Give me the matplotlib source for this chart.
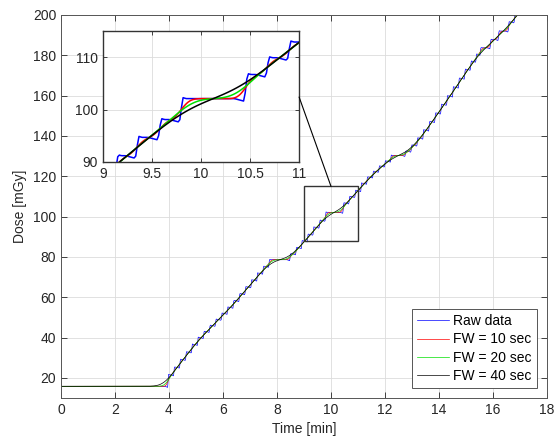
import matplotlib
matplotlib.use('Agg')
import matplotlib.pyplot as plt
from matplotlib.patches import Rectangle, ConnectionPatch
import numpy as np

plt.rcParams['font.family'] = ['Liberation Sans', 'DejaVu Sans']
plt.rcParams['font.size'] = 10

# Dose before irradiation starts
base_dose = 15.8
# Rising edge of every dose step [min] and dose level after it [mGy]
edge_t = [3.95, 4.17, 4.39, 4.61, 4.83, 5.05, 5.27, 5.49, 5.71, 5.93,
          6.15, 6.37, 6.59, 6.81, 7.03, 7.25, 7.47, 7.69,
          8.47, 8.69, 8.90, 9.12, 9.33, 9.56, 9.78,
          10.44, 10.66, 10.88, 11.10, 11.32, 11.54, 11.76, 11.98, 12.20,
          12.74, 12.96, 13.18, 13.40, 13.62, 13.84, 14.06, 14.28, 14.50,
          14.72, 14.94, 15.16, 15.36, 15.52, 15.89, 16.19, 16.56, 16.78, 17.00]
edge_dose = [21.5, 25.3, 29.1, 32.8, 36.6, 40.0, 43.0, 46.0, 49.0, 52.0,
             55.0, 58.3, 61.7, 65.1, 68.5, 71.9, 75.3, 78.6,
             81.5, 84.6, 87.9, 91.2, 94.7, 98.1, 102.1,
             106.7, 109.9, 112.9, 116.5, 119.6, 122.4, 125.0, 127.5, 130.3,
             132.4, 135.4, 138.9, 142.9, 147.1, 151.3, 155.6, 159.8, 164.2,
             168.6, 173.0, 177.0, 180.5, 183.7, 187.8, 192.0, 196.5, 200.5, 204.5]
t_end = 17.2
filter_widths = [10, 20, 40]  # sec (full width)

# raw staircase: slight sag before each rise, tiny overshoot after it
dip, over = 0.5, 0.2
pts_t = [0.0]
pts_y = [base_dose]
prev = base_dose
for t, lvl in zip(edge_t, edge_dose):
    pts_t += [t - 6 / 60, t, t + 2 / 60, t + 4 / 60]
    pts_y += [prev, prev - dip, lvl + over, lvl]
    prev = lvl
pts_t.append(t_end)
pts_y.append(prev)

t_sec = np.arange(0, t_end * 60 + 1, 1.0)
t_min = t_sec / 60
raw = np.interp(t_min, pts_t, pts_y)


def gauss_filter(y, fw):
    sig = fw / 2.355
    half = int(np.ceil(4 * sig))
    k = np.exp(-0.5 * (np.arange(-half, half + 1) / sig) ** 2)
    k /= k.sum()
    yp = np.pad(y, (half, half), mode='edge')
    return np.convolve(yp, k, mode='valid')


smoothed = [gauss_filter(raw, w) for w in filter_widths]

colors = ['#0000ff', '#ff0000', '#00e000', '#000000']
labels = ['Raw data'] + ['FW = %d sec' % w for w in filter_widths]
txt = '#262626'

fig = plt.figure(figsize=(5.57, 4.47), dpi=100)
ax = fig.add_axes([0.1095, 0.1096, 0.8725, 0.857])

series = [raw] + smoothed
for y, c, lab in zip(series, colors, labels):
    ax.plot(t_min, y, color=c, lw=0.5, label=lab)

ax.set_xlim(0, 18)
ax.set_ylim(10, 200)
ax.set_xticks(np.arange(0, 19, 2))
ax.set_yticks(np.arange(20, 201, 20))
ax.set_xlabel('Time [min]', color=txt)
ax.set_ylabel('Dose [mGy]', color=txt)
ax.grid(True, color='#dcdcdc', lw=0.6)
ax.set_axisbelow(True)
ax.tick_params(direction='in', top=True, right=True, length=4, colors=txt, width=0.6)
for s in ax.spines.values():
    s.set_color('#555555')
    s.set_linewidth(0.7)

leg = ax.legend(loc='lower right', fancybox=False, framealpha=1,
                edgecolor='#555555', borderaxespad=0.7, handlelength=2.3,
                handletextpad=0.3, labelspacing=0.3, fontsize=10)
leg.get_frame().set_linewidth(0.7)

# zoom rectangle
ax.add_patch(Rectangle((9, 88), 2, 27, fill=False, ec='#333333', lw=1.0, zorder=5))

# inset
axin = fig.add_axes([0.185, 0.6376, 0.352, 0.293])
for y, c in zip(series, colors):
    axin.plot(t_min, y, color=c, lw=1.1)
axin.set_xlim(9, 11)
axin.set_ylim(90, 115)
axin.set_xticks([9, 9.5, 10, 10.5, 11])
axin.set_xticklabels(['9', '9.5', '10', '10.5', '11'])
axin.set_yticks([90, 100, 110])
axin.grid(True, color='#dcdcdc', lw=0.6)
axin.set_axisbelow(True)
axin.tick_params(direction='in', top=True, right=True, length=3, colors=txt, width=0.6)
for s in axin.spines.values():
    s.set_color('#333333')
    s.set_linewidth(1.0)

con = ConnectionPatch(xyA=(11, 102.4), coordsA=axin.transData,
                      xyB=(10, 115), coordsB=ax.transData,
                      color='black', lw=0.8)
fig.add_artist(con)

fig.savefig('out.png', dpi=100)
